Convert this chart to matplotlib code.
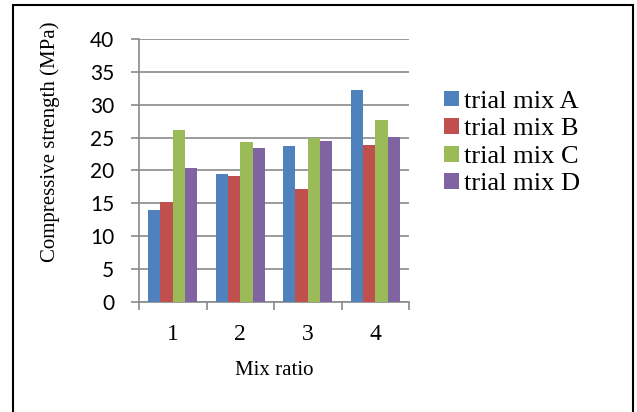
import matplotlib
matplotlib.use("Agg")
import matplotlib.pyplot as plt
import numpy as np
from matplotlib.patches import Rectangle

categories = ["1", "2", "3", "4"]
series_names = ["trial mix A", "trial mix B", "trial mix C", "trial mix D"]
mix_a = [13.9, 19.4, 23.7, 32.3]
mix_b = [15.2, 19.1, 17.2, 23.8]
mix_c = [26.1, 24.3, 25.0, 27.7]
mix_d = [20.3, 23.4, 24.4, 25.1]
yticks = [0, 5, 10, 15, 20, 25, 30, 35, 40]
colors = ["#4F81BD", "#C0504D", "#9BBB59", "#8064A2"]

W, H = 637, 412
fig = plt.figure(figsize=(W / 100, H / 100), dpi=100)
fig.patch.set_facecolor("white")

ax = fig.add_axes([139 / W, 1 - 301.7 / H, 270 / W, 262.7 / H])

x = np.arange(1, len(categories) + 1)
bw = 1 / 5.5
series = [mix_a, mix_b, mix_c, mix_d]
handles = []
for i, (vals, name, c) in enumerate(zip(series, series_names, colors)):
    b = ax.bar(x + (i - 1.5) * bw, vals, width=bw, color=c, label=name,
               edgecolor="none", zorder=3)
    handles.append(b)

ax.set_xlim(0.5, 4.5)
ax.set_ylim(0, 40)
grid_c = "#8a8a8a"
ax.set_yticks(yticks)
ax.set_yticklabels([str(v) for v in yticks], fontfamily="Lato", fontsize=15)
ax.yaxis.grid(True, color=grid_c, linewidth=1.2, zorder=0)
ax.set_axisbelow(True)

ax.set_xticks(x)
ax.set_xticklabels(categories, fontfamily="Liberation Serif", fontsize=17)
ax.set_xticks(np.arange(0.5, 4.6, 1.0), minor=True)
ax.tick_params(axis="x", which="major", length=0, pad=16)
ax.tick_params(axis="x", which="minor", length=5.5, width=1.2, color=grid_c, direction="out")
ax.tick_params(axis="y", which="major", length=5.8, width=1.2, color=grid_c, pad=12, direction="out")

for s in ["top", "right"]:
    ax.spines[s].set_visible(False)
for s in ["left", "bottom"]:
    ax.spines[s].set_color(grid_c)
    ax.spines[s].set_linewidth(1.2)

ax.set_xlabel("Mix ratio", fontfamily="Liberation Serif", fontsize=15)
ax.xaxis.set_label_coords(0.5, -0.225)
ax.xaxis.label.set_va("top")

fig.text(50 / W, 1 - 141.5 / H, "Compressive strength (MPa)", rotation=90,
         ha="center", va="center", fontfamily="Liberation Serif", fontsize=15)

leg = fig.legend(handles=handles, labels=series_names, loc="center left",
                 bbox_to_anchor=(444 / W, 1 - 143 / H), bbox_transform=fig.transFigure,
                 frameon=False, borderpad=0, borderaxespad=0,
                 prop={"family": "Liberation Serif", "size": 19},
                 handlelength=0.55, handleheight=0.55, handletextpad=0.2,
                 labelspacing=0.2)

border = Rectangle((13 / W, -0.1), (633 - 13) / W, (H - 5) / H + 0.1,
                   transform=fig.transFigure, fill=False, edgecolor="black",
                   linewidth=1.5, clip_on=False)
fig.patches.append(border)

fig.savefig("out.png", dpi=100)
